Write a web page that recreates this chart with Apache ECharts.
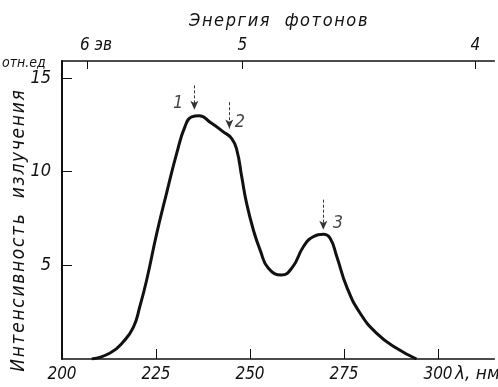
<!DOCTYPE html>
<html>
<head>
<meta charset="utf-8">
<script src="https://cdn.jsdelivr.net/npm/echarts@6/dist/echarts.min.js"></script>
<style>
  html, body { margin: 0; padding: 0; background: #fff; }
  #chart { width: 498px; height: 387px; }
</style>
</head>
<body>
<div id="chart"></div>
<script>
// emission spectrum
const wavelength = [207.9, 212.8, 216.3, 219.0, 220.7, 222.5, 225.2, 227.8, 230.5, 232.7, 234.5, 236.5,
  239.6, 242.9, 245.1, 246.5, 247.8, 249.1, 250.9, 252.7, 254.9, 258.4, 261.3, 264.2, 266.8, 269.5,
  271.3, 273.1, 275.7, 279.3, 283.7, 289.0, 294.3];
const intensity = [0, 0.32, 0.92, 1.7, 2.8, 4.2, 6.7, 8.84, 10.97, 12.4, 12.92, 12.98,
  12.6, 12.12, 11.77, 11.15, 9.72, 8.3, 6.88, 5.81, 4.84, 4.48, 4.9, 5.99, 6.52, 6.65,
  6.44, 5.46, 3.86, 2.44, 1.37, 0.57, 0];

const waveTicks = [225, 250, 275, 300];
const waveLabels = [200, 225, 250, 275, 300];
const intensityTicks = [5, 10, 15];
const energyTicks = [6, 5, 4];

// peak markers: [wavelength, arrow top, arrow tip]
const arrows = [[235.2, 14.6, 13.3], [244.5, 13.7, 12.3], [269.5, 8.5, 6.9]];
// marker numbers: [wavelength, intensity, text]
const arrowLabels = [[230.9, 13.65, "1"], [247.3, 12.64, "2"], [273.4, 7.25, "3"]];

const hc = 1239.84;
const energyPos = energyTicks.map((e) => hc / e);

const ink = "#111";
const font = '"DejaVu Sans Condensed", "Liberation Sans Narrow", sans-serif';
const hair = "\u200A";
const spaced = (s) => s.split("").join(hair);

const chart = echarts.init(document.getElementById("chart"));

chart.setOption({
  animation: false,
  grid: { left: 62, top: 61, width: 432.4, height: 298 },
  xAxis: [
    {
      type: "value",
      min: 200,
      max: 315,
      position: "bottom",
      axisLine: { lineStyle: { color: ink, width: 1.5 } },
      axisTick: { inside: true, length: 10, customValues: waveTicks, lineStyle: { color: ink, width: 1 } },
      axisLabel: {
        customValues: waveLabels,
        color: ink, fontFamily: font, fontStyle: "italic", fontSize: 17, margin: 7,
      },
      splitLine: { show: false },
    },
    {
      type: "value",
      min: 200,
      max: 315,
      position: "top",
      name: spaced("Энергия  фотонов"),
      nameLocation: "middle",
      nameGap: 31,
      nameTextStyle: { color: ink, fontFamily: font, fontStyle: "italic", fontSize: 18 },
      axisLine: { lineStyle: { color: ink, width: 1.5 } },
      axisTick: { inside: true, length: 8, customValues: energyPos, lineStyle: { color: ink, width: 1 } },
      axisLabel: {
        customValues: energyPos,
        color: ink, fontFamily: font, fontStyle: "italic", fontSize: 17, margin: 7,
        formatter: (v) => {
          const e = Math.round(hc / v);
          return e === 6 ? "{p| }6 эв" : String(e);
        },
        rich: { p: { width: 18 } },
      },
      splitLine: { show: false },
    },
  ],
  yAxis: {
    type: "value",
    min: 0,
    max: 15.9,
    axisLine: { show: true, lineStyle: { color: ink, width: 2 } },
    axisTick: { show: true, inside: true, length: 10, customValues: intensityTicks, lineStyle: { color: ink, width: 1 } },
    axisLabel: {
      customValues: intensityTicks,
      color: ink, fontFamily: font, fontStyle: "italic", fontSize: 18, margin: 11,
    },
    splitLine: { show: false },
  },
  graphic: [
    {
      type: "text",
      x: 19, y: 231, rotation: Math.PI / 2,
      style: {
        text: spaced("Интенсивность  излучения"),
        fill: ink, font: 'italic 19px "DejaVu Sans Condensed", sans-serif',
        align: "center", verticalAlign: "middle",
      },
    },
    {
      type: "text",
      x: 2, y: 63,
      style: {
        text: "отн.ед",
        fill: ink, font: 'italic 14px "DejaVu Sans Condensed", sans-serif',
        align: "left", verticalAlign: "middle",
      },
    },
    {
      type: "text",
      x: 455, y: 375,
      style: {
        text: "λ, нм",
        fill: ink, font: 'italic 17px "DejaVu Sans", sans-serif',
        align: "left", verticalAlign: "middle",
      },
    },
  ],
  series: [
    {
      type: "line",
      xAxisIndex: 0,
      data: wavelength.map((w, i) => [w, intensity[i]]),
      smooth: 0.5,
      showSymbol: false,
      lineStyle: { color: ink, width: 3 },
      markLine: {
        silent: true,
        symbol: ["none", "arrow"],
        symbolSize: [6, 9],
        label: { show: false },
        lineStyle: { color: "#333", type: [3, 2], width: 1 },
        data: arrows.map(([w, y0, y1]) => [{ coord: [w, y0] }, { coord: [w, y1] }]),
      },
    },
    {
      type: "scatter",
      xAxisIndex: 0,
      data: arrowLabels,
      symbolSize: 0,
      label: {
        show: true,
        position: "inside",
        formatter: (p) => p.value[2],
        color: ink, fontFamily: font, fontStyle: "italic", fontSize: 18,
      },
    },
  ],
});
</script>
</body>
</html>
